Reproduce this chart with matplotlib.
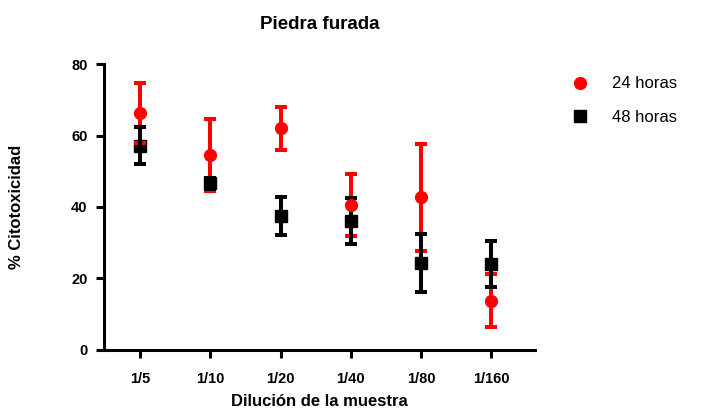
import matplotlib.pyplot as plt
from matplotlib.ticker import MultipleLocator

plt.rcParams['font.family'] = ['Liberation Sans', 'DejaVu Sans']

diluciones = ['1/5', '1/10', '1/20', '1/40', '1/80', '1/160']
media_24 = [66.3, 54.5, 62.0, 40.6, 42.7, 13.8]
err_24 = [8.5, 10.0, 6.0, 8.7, 14.9, 7.5]
media_48 = [57.2, 46.6, 37.5, 36.1, 24.2, 24.1]
err_48 = [5.2, 1.6, 5.3, 6.4, 8.1, 6.4]

x = list(range(len(diluciones)))

fig = plt.figure(figsize=(7.04, 4.16), dpi=100)
ax = fig.add_axes([0.148, 0.159, 0.612, 0.687])

# black squares under red bars, black bars over red bars, red dots on top
ax.plot(x, media_48, 's', color='black', markersize=8.5, zorder=2)
ax.errorbar(x, media_24, yerr=err_24, fmt='none', ecolor='#ff0000',
            elinewidth=2.9, capsize=4, capthick=2.9, zorder=3)
ax.errorbar(x, media_48, yerr=err_48, fmt='none', ecolor='black',
            elinewidth=2.9, capsize=4, capthick=2.9, zorder=4)
ax.plot(x, media_24, 'o', color='#ff0000', markersize=8.5, zorder=5)

# legend handles
ax.plot([], [], 'o', color='#ff0000', markersize=8.5, label='24 horas')
ax.plot([], [], 's', color='black', markersize=8.5, label='48 horas')

ax.set_xlim(-0.51, 5.62)
ax.set_ylim(0, 80)
ax.set_yticks([0, 20, 40, 60, 80])
ax.set_xticks(x)
ax.set_xticklabels(diluciones)
ax.xaxis.set_minor_locator(MultipleLocator(0.1))

for s in ['top', 'right']:
    ax.spines[s].set_visible(False)
for s in ['left', 'bottom']:
    ax.spines[s].set_linewidth(2.2)

ax.tick_params(axis='both', which='major', length=6, width=2.2,
               labelsize=10.5, pad=6)
ax.tick_params(axis='x', which='minor', length=2, width=0.8,
               direction='inout', color='#555555')
for lab in ax.get_xticklabels() + ax.get_yticklabels():
    lab.set_fontweight('bold')
ax.tick_params(axis='x', pad=10)

ax.set_title('Piedra furada', fontsize=13.5, fontweight='bold', pad=25)
ax.set_xlabel('Dilución de la muestra', fontsize=12, fontweight='bold', labelpad=6)
ax.set_ylabel('% Citotoxicidad', fontsize=12, fontweight='bold', labelpad=34)

leg = ax.legend(loc='upper left', bbox_to_anchor=(1.05, 1.009), frameon=False,
                fontsize=12, handletextpad=1.4, labelspacing=1.1,
                handlelength=1.0)

fig.savefig('out.png', dpi=100)
